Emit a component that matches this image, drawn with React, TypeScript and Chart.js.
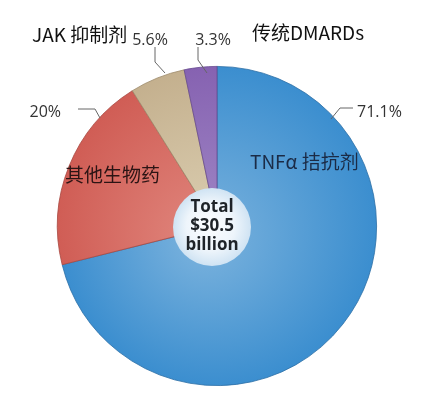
import React, { useEffect, useRef } from "react";
import { Chart, registerables } from "chart.js";

Chart.register(...registerables);

const categories = ["TNFα 拮抗剂", "其他生物药", "JAK 抑制剂", "传统DMARDs"];
const shares = [71.1, 20, 5.6, 3.3];
const shareLabels = ["71.1%", "20%", "5.6%", "3.3%"];
const centerLines = ["Total", "$30.5", "billion"];

const baseColors = ["#3b8ecf", "#d05d55", "#c4b08e", "#8662b1"];
const innerColors = ["#7ab2dd", "#e0857c", "#dccfb2", "#a088c6"];
const edgeColors = ["#2c6ea6", "#a84840", "#9e8c6c", "#674a90"];

const CJK = '"Noto Sans CJK SC", "Noto Sans", sans-serif';
const LAT = '"Open Sans", "Noto Sans", sans-serif';

const annotPlugin = {
  id: "annot",
  afterDatasetsDraw(chart: any) {
    const ctx = chart.ctx as CanvasRenderingContext2D;
    const meta = chart.getDatasetMeta(0);
    const arc = meta.data[0];
    const cx = arc.x;
    const cy = arc.y;

    // center overlay circle
    const ocx = cx - 5;
    const ocy = cy + 1;
    const orad = 39;
    const g = ctx.createRadialGradient(ocx - 4, ocy - 2, 2, ocx, ocy, orad);
    g.addColorStop(0, "#fbfdff");
    g.addColorStop(0.6, "#eef5fb");
    g.addColorStop(1, "#cfe3f3");
    ctx.save();
    ctx.beginPath();
    ctx.arc(ocx, ocy, orad, 0, Math.PI * 2);
    ctx.fillStyle = g;
    ctx.fill();
    ctx.fillStyle = "#1e2328";
    ctx.font = `bold 17px ${LAT}`;
    ctx.textAlign = "center";
    ctx.textBaseline = "middle";
    const offs = [-20, -1, 18];
    centerLines.forEach((t, i) => ctx.fillText(t, ocx, ocy + offs[i]));

    // leader lines (relative to pie center)
    ctx.strokeStyle = "#666";
    ctx.lineWidth = 1;
    const leaders = [
      [[136, -118], [123, -118], [114, -107]],
      [[-139, -117], [-122, -117], [-117, -108]],
      [[-62, -179], [-62, -164], [-52, -153]],
      [[-19, -179], [-19, -166], [-10, -153]],
    ];
    leaders.forEach((pts) => {
      ctx.beginPath();
      pts.forEach(([dx, dy], i) => {
        if (i === 0) ctx.moveTo(cx + dx, cy + dy);
        else ctx.lineTo(cx + dx, cy + dy);
      });
      ctx.stroke();
    });

    // percentage labels
    ctx.fillStyle = "#333";
    ctx.font = `16px ${LAT}`;
    ctx.textBaseline = "middle";
    const pctPos = [
      [140, -114, "left"],
      [-156, -114, "right"],
      [-67, -186, "center"],
      [-4, -186, "center"],
    ];
    pctPos.forEach(([dx, dy, al], i) => {
      ctx.textAlign = al as CanvasTextAlign;
      ctx.fillText(shareLabels[i], cx + (dx as number), cy + (dy as number));
    });

    // category labels
    ctx.font = `19px ${CJK}`;
    ctx.textAlign = "left";
    const catPos = [
      [33, -64, "#1b2b46"],
      [-152, -51, "#2b1414"],
      [-185, -191, "#111"],
      [35, -193, "#111"],
    ];
    catPos.forEach(([dx, dy, col], i) => {
      ctx.fillStyle = col as string;
      ctx.fillText(categories[i], cx + (dx as number), cy + (dy as number));
    });
    ctx.restore();
  },
};

export default function App() {
  const ref = useRef<HTMLCanvasElement>(null);
  useEffect(() => {
    if (!ref.current) return;
    const chart = new Chart(ref.current, {
      type: "pie",
      data: {
        labels: categories,
        datasets: [
          {
            data: shares,
            backgroundColor: (c: any) => {
              const ch = c.chart;
              const area = ch.chartArea;
              const i = c.dataIndex;
              if (!area) return baseColors[i];
              const x = (area.left + area.right) / 2;
              const y = (area.top + area.bottom) / 2;
              const r = Math.min(area.right - area.left, area.bottom - area.top) / 2;
              const gr = ch.ctx.createRadialGradient(x - 15, y + 15, 5, x, y, r);
              gr.addColorStop(0, innerColors[i]);
              gr.addColorStop(1, baseColors[i]);
              return gr;
            },
            borderColor: edgeColors,
            borderWidth: 0.8,
          },
        ],
      },
      options: {
        responsive: false,
        animation: false,
        layout: { padding: { top: 66, bottom: 13, left: 57, right: 45 } },
        plugins: {
          legend: { display: false },
          tooltip: { enabled: false },
        },
      },
      plugins: [annotPlugin],
    });
    return () => chart.destroy();
  }, []);
  return (
    <div style={{ position: "absolute", left: 0, top: 0, width: 422, height: 399, background: "#fff" }}>
      <canvas ref={ref} width={422} height={399} />
    </div>
  );
}
